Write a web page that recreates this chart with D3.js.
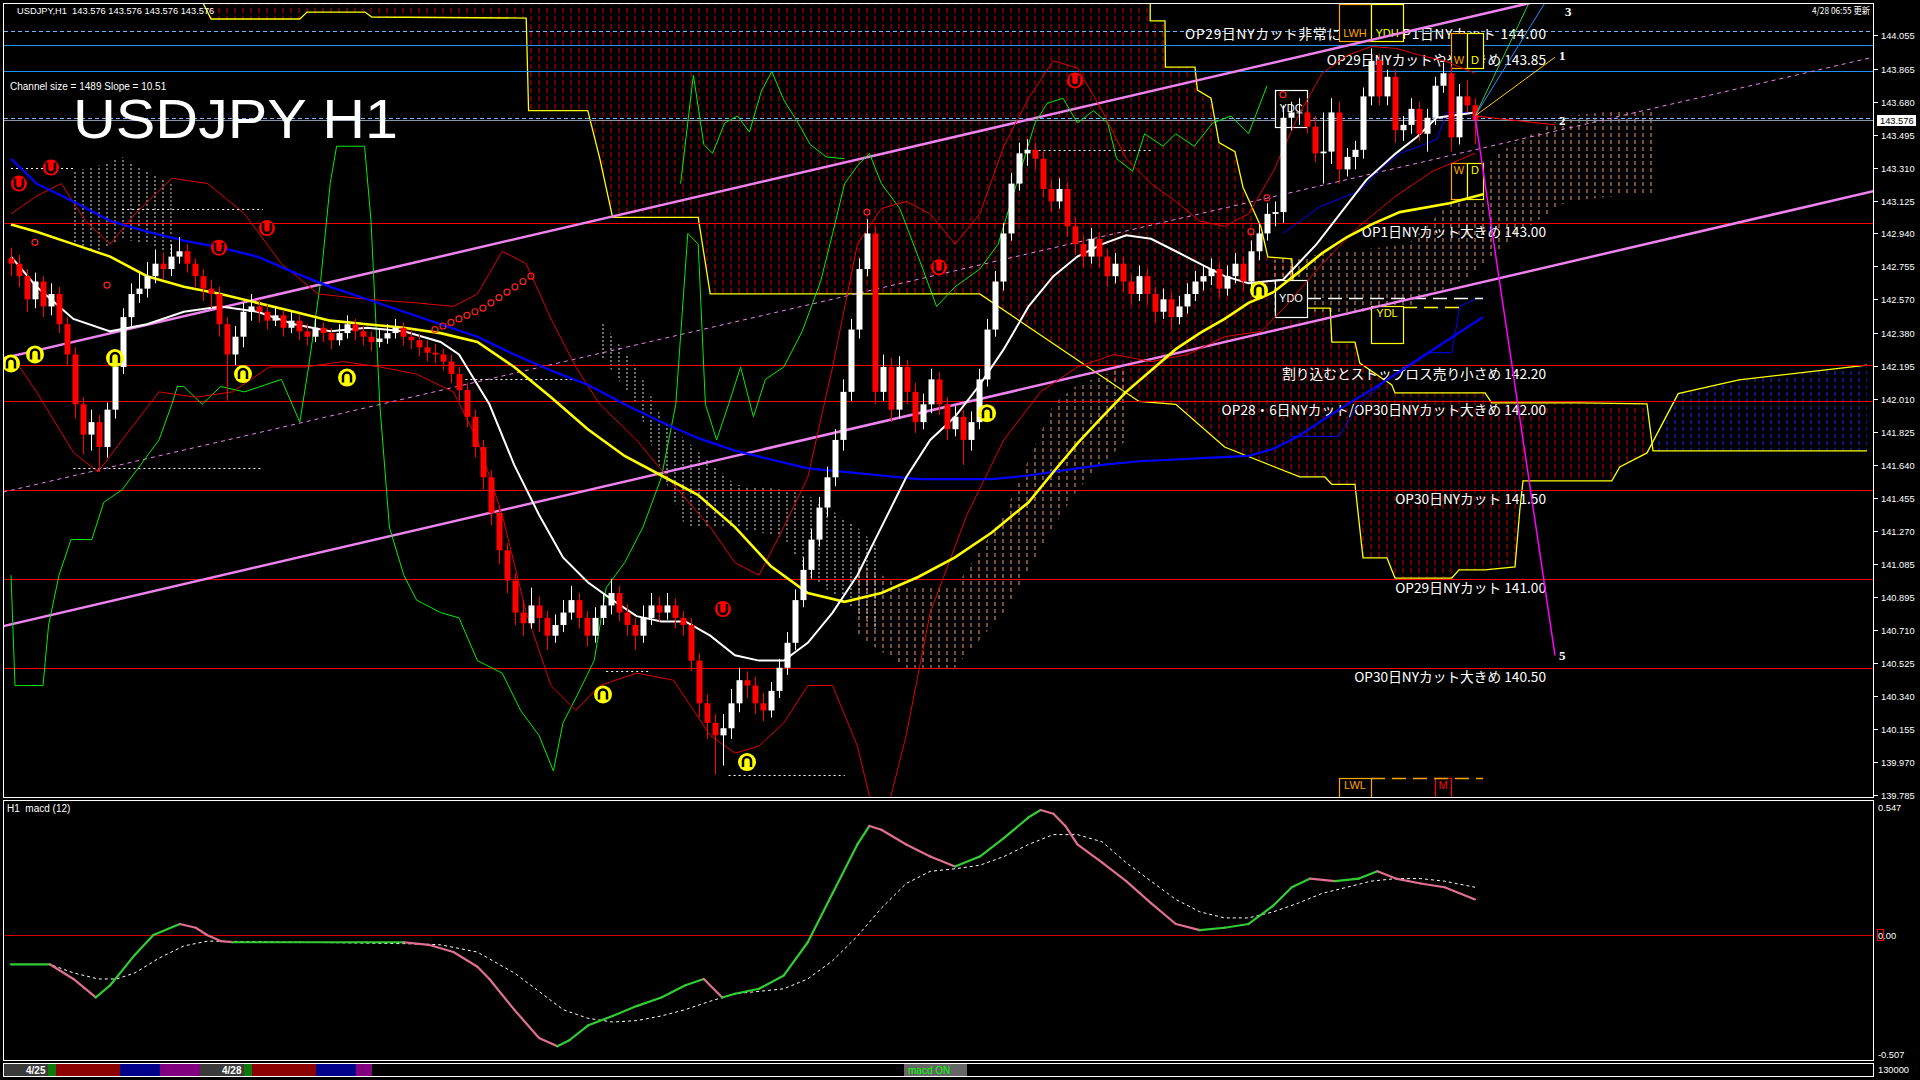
<!DOCTYPE html>
<html><head><meta charset="utf-8">
<script src="https://cdn.jsdelivr.net/npm/d3@7"></script>
<style>
html,body{margin:0;padding:0;background:#000;overflow:hidden}
svg{display:block}
text{font-family:"Liberation Sans",Arial,sans-serif}
</style></head><body>
<svg id="c" width="1920" height="1080"></svg>
<script>
// ---------------- DATA ----------------
const ohlc = [
[142.80,142.86,142.70,142.77],[142.77,142.82,142.64,142.70],[142.70,142.74,142.50,142.57],[142.57,142.72,142.52,142.67],
[142.67,142.70,142.47,142.53],[142.53,142.66,142.48,142.60],[142.60,142.64,142.38,142.43],[142.43,142.47,142.20,142.26],
[142.26,142.30,141.90,141.98],[141.98,142.02,141.70,141.81],[141.81,141.95,141.72,141.88],[141.88,141.92,141.60,141.74],
[141.74,141.99,141.68,141.95],[141.95,142.24,141.90,142.19],[142.19,142.52,142.15,142.47],[142.47,142.66,142.42,142.60],
[142.60,142.72,142.55,142.63],[142.63,142.78,142.58,142.70],[142.70,142.85,142.66,142.77],[142.77,142.83,142.68,142.74],
[142.74,142.88,142.70,142.81],[142.81,142.92,142.77,142.84],[142.84,142.88,142.72,142.77],[142.77,142.80,142.64,142.70],
[142.70,142.74,142.56,142.63],[142.63,142.68,142.52,142.60],[142.60,142.64,142.36,142.43],[142.43,142.47,142.00,142.26],
[142.26,142.42,142.20,142.36],[142.36,142.55,142.30,142.50],[142.50,142.60,142.45,142.53],[142.53,142.57,142.44,142.50],
[142.50,142.54,142.40,142.45],[142.45,142.53,142.42,142.48],[142.48,142.51,142.36,142.41],[142.41,142.50,142.38,142.45],
[142.45,142.48,142.34,142.39],[142.39,142.43,142.31,142.36],[142.36,142.46,142.33,142.41],[142.41,142.44,142.33,142.38],
[142.38,142.41,142.29,142.34],[142.34,142.43,142.31,142.38],[142.38,142.48,142.35,142.43],[142.43,142.46,142.34,142.39],
[142.39,142.42,142.31,142.36],[142.36,142.39,142.28,142.33],[142.33,142.40,142.30,142.35],[142.35,142.43,142.32,142.38],
[142.38,142.46,142.35,142.41],[142.41,142.44,142.31,142.36],[142.36,142.40,142.29,142.34],[142.34,142.37,142.25,142.30],
[142.30,142.34,142.22,142.27],[142.27,142.32,142.21,142.26],[142.26,142.29,142.17,142.22],[142.22,142.26,142.10,142.15],
[142.15,142.19,142.00,142.06],[142.06,142.10,141.85,141.91],[141.91,141.95,141.68,141.74],[141.74,141.78,141.50,141.57],
[141.57,141.61,141.30,141.37],[141.37,141.41,141.08,141.16],[141.16,141.20,140.92,140.99],[140.99,141.03,140.74,140.81],
[140.81,140.88,140.68,140.75],[140.75,140.95,140.72,140.85],[140.85,140.90,140.70,140.78],[140.78,140.82,140.60,140.68],
[140.68,140.80,140.64,140.74],[140.74,140.88,140.70,140.81],[140.81,140.96,140.77,140.88],[140.88,140.92,140.72,140.78],
[140.78,140.82,140.62,140.68],[140.68,140.84,140.64,140.78],[140.78,140.92,140.74,140.85],[140.85,141.00,140.80,140.92],
[140.92,140.96,140.76,140.81],[140.81,140.86,140.68,140.74],[140.74,140.78,140.60,140.68],[140.68,140.85,140.64,140.78],
[140.78,140.92,140.74,140.85],[140.85,140.90,140.76,140.81],[140.81,140.92,140.77,140.85],[140.85,140.89,140.72,140.78],
[140.78,140.82,140.68,140.74],[140.74,140.78,140.48,140.54],[140.54,140.58,140.22,140.30],[140.30,140.35,140.10,140.19],
[140.19,140.24,139.90,140.12],[140.12,140.24,139.95,140.16],[140.16,140.38,140.10,140.30],[140.30,140.50,140.25,140.43],
[140.43,140.48,140.33,140.40],[140.40,140.45,140.24,140.30],[140.30,140.36,140.20,140.26],[140.26,140.42,140.22,140.37],
[140.37,140.55,140.33,140.50],[140.50,140.70,140.46,140.64],[140.64,140.94,140.60,140.88],[140.88,141.12,140.84,141.05],
[141.05,141.28,141.00,141.22],[141.22,141.46,141.18,141.40],[141.40,141.63,141.35,141.57],[141.57,141.84,141.52,141.78],
[141.78,142.12,141.72,142.05],[142.05,142.46,142.00,142.40],[142.40,142.80,142.35,142.74],[142.74,143.02,142.70,142.94],
[142.94,142.98,141.98,142.05],[142.05,142.26,142.00,142.19],[142.19,142.24,141.88,141.95],[141.95,142.25,141.90,142.19],
[142.19,142.23,141.98,142.05],[142.05,142.10,141.82,141.88],[141.88,142.04,141.84,141.98],[141.98,142.18,141.93,142.12],
[142.12,142.16,141.92,141.98],[141.98,142.02,141.78,141.84],[141.84,141.97,141.80,141.91],[141.91,141.95,141.64,141.78],
[141.78,141.94,141.72,141.88],[141.88,142.18,141.84,142.12],[142.12,142.46,142.08,142.40],[142.40,142.73,142.36,142.67],
[142.67,143.00,142.62,142.94],[142.94,143.28,142.90,143.22],[143.22,143.45,143.18,143.39],[143.39,143.47,143.32,143.41],
[143.41,143.45,143.30,143.36],[143.36,143.40,143.14,143.19],[143.19,143.24,143.06,143.12],[143.12,143.25,143.08,143.19],
[143.19,143.23,142.92,142.98],[142.98,143.03,142.82,142.88],[142.88,142.93,142.75,142.81],[142.81,142.97,142.77,142.91],
[142.91,142.95,142.75,142.81],[142.81,142.85,142.64,142.70],[142.70,142.83,142.66,142.77],[142.77,142.81,142.61,142.67],
[142.67,142.71,142.54,142.60],[142.60,142.76,142.56,142.70],[142.70,142.74,142.54,142.60],[142.60,142.64,142.44,142.50],
[142.50,142.63,142.46,142.57],[142.57,142.61,142.40,142.47],[142.47,142.59,142.43,142.53],[142.53,142.66,142.49,142.60],
[142.60,142.73,142.56,142.67],[142.67,142.76,142.62,142.70],[142.70,142.80,142.65,142.74],[142.74,142.78,142.58,142.63],
[142.63,142.76,142.59,142.70],[142.70,142.83,142.66,142.77],[142.77,142.81,142.62,142.67],[142.67,142.90,142.63,142.84],
[142.84,143.00,142.79,142.94],[142.94,143.11,142.90,143.05],[143.05,143.12,142.98,143.06],[143.06,143.66,143.00,143.59],
[143.59,143.68,143.52,143.62],[143.62,143.70,143.55,143.62],[143.62,143.68,143.50,143.54],[143.54,143.60,143.34,143.39],
[143.39,143.62,143.22,143.40],[143.40,143.70,143.33,143.62],[143.62,143.68,143.22,143.30],[143.30,143.42,143.26,143.37],
[143.37,143.46,143.30,143.41],[143.41,143.76,143.36,143.71],[143.71,143.98,143.66,143.91],[143.91,143.95,143.66,143.71],
[143.71,143.86,143.66,143.82],[143.82,143.86,143.45,143.52],[143.52,143.60,143.46,143.55],[143.55,143.70,143.50,143.64],
[143.64,143.68,143.46,143.50],[143.50,143.64,143.40,143.59],[143.59,143.82,143.55,143.77],[143.77,143.90,143.73,143.84],
[143.84,143.88,143.40,143.48],[143.48,143.78,143.44,143.71],[143.71,143.80,143.62,143.66],[143.66,143.70,143.44,143.576]
];
const lastPrice = 143.576;
const priceTicks = [144.055,143.865,143.680,143.495,143.310,143.125,142.940,142.755,142.570,142.380,142.195,142.010,141.825,141.640,141.455,141.270,141.085,140.895,140.710,140.525,140.340,140.155,139.970,139.785];
const macdTicks = [0.547,0.00,-0.507];

// moving averages [bar, price]
const maWhite = [[0,142.81],[3.2,142.64],[7.8,142.46],[12.4,142.39],[17,142.43],[21.6,142.50],[26.2,142.53],[30.8,142.50],[35.4,142.43],[39.9,142.39],[44.5,142.41],[49.1,142.39],[53.7,142.33],[56,142.26],[59.8,141.98],[62.9,141.64],[66,141.36],[69,141.12],[72.1,140.98],[75.2,140.88],[78.2,140.79],[81.3,140.76],[84.3,140.76],[87.4,140.68],[90.5,140.57],[93.5,140.54],[96.6,140.54],[99.6,140.64],[102.7,140.81],[105.8,141.02],[108.8,141.29],[111.9,141.57],[114.9,141.78],[118,141.91],[121.1,142.09],[124.1,142.29],[127.2,142.53],[130.3,142.70],[133.3,142.81],[136.4,142.88],[139.4,142.93],[142.5,142.91],[145.6,142.84],[148.6,142.77],[151.7,142.70],[154.7,142.66],[159,142.68],[163.2,142.88],[167,143.10],[169.4,143.24],[173.1,143.39],[175.7,143.48],[178.2,143.59],[183,143.62]];
const maYellow = [[0,142.99],[3.2,142.95],[7.8,142.88],[12.4,142.81],[17,142.70],[21.6,142.64],[26.2,142.60],[30.8,142.55],[35.4,142.50],[39.9,142.45],[44.5,142.43],[49.1,142.41],[53.7,142.38],[58.3,142.33],[62.9,142.19],[67.5,142.02],[72.1,141.84],[76.7,141.69],[81.3,141.58],[85.9,141.47],[90.5,141.29],[95,141.07],[99.6,140.92],[104.2,140.87],[108.8,140.92],[113.4,141.01],[118,141.12],[122.6,141.26],[127.2,141.43],[130.3,141.60],[133.3,141.76],[136.4,141.91],[139.4,142.05],[142.5,142.17],[145.6,142.29],[148.6,142.38],[151.7,142.46],[154.7,142.55],[157.8,142.61],[160.9,142.72],[163.9,142.83],[167,142.92],[170,142.99],[173.6,143.06],[179.8,143.11],[184,143.16]];
const maBlue = [[0,143.36],[3.2,143.22],[7.8,143.12],[12.4,143.01],[17,142.95],[21.6,142.90],[26.2,142.86],[30.8,142.81],[35.4,142.72],[39.9,142.64],[44.5,142.57],[49.1,142.50],[53.7,142.43],[58.3,142.36],[62.9,142.26],[67.5,142.17],[72.1,142.09],[76.7,141.98],[81.3,141.88],[85.9,141.79],[90.5,141.72],[95,141.67],[99.6,141.62],[104.2,141.60],[108.8,141.58],[113.4,141.56],[118,141.56],[122.6,141.56],[127.2,141.58],[131.8,141.61],[136.4,141.64],[141,141.66],[145.6,141.67],[150.2,141.68],[154.7,141.69],[157.8,141.73],[160.9,141.80],[163.9,141.89],[167,141.98],[170,142.06],[173.1,142.15],[176.2,142.24],[179.2,142.33],[184,142.47]];
const tenkanBlue = [[159,142.94],[163.6,143.09],[168.6,143.18],[171.1,143.30],[173.6,143.39],[176.1,143.43],[178.25,143.47],[179.5,143.62],[183,143.62]];
const kijunBlue = [[160,141.80],[166,141.80],[168,141.95],[172,142.12],[177,142.27],[180.1,142.27],[181.1,142.53],[183,142.57]];
const bandUpper = [[0,143.05],[3.2,143.15],[6.3,143.22],[9.3,143.01],[12.4,142.88],[15.5,143.05],[20.1,143.25],[24.6,143.22],[29.2,143.05],[33.8,142.77],[38.4,142.60],[44.5,142.57],[50.7,142.55],[55.3,142.53],[58.3,142.60],[61.4,142.84],[64.4,142.77],[67.5,142.46],[70.6,142.19],[73.6,141.98],[78.2,141.78],[82.8,141.53],[87.4,141.29],[90.5,141.09],[93.5,141.02],[96.6,141.29],[99.6,141.57],[102.7,142.19],[105.8,142.88],[108.8,143.08],[111.9,143.12],[114.9,143.05],[118,142.88],[121.1,143.05],[124.1,143.43],[127.2,143.70],[130.3,143.91],[133.3,143.87],[136.4,143.63],[139.4,143.36],[142.5,143.22],[145.6,143.12],[148.6,143.01],[151.7,142.98],[154.7,143.05],[157.8,143.29],[160.9,143.60],[163.9,143.84],[167,143.94],[170,143.99],[173.1,143.98],[176.2,143.94],[179.2,143.91],[183,143.84]];
const bandLower = [[0,142.26],[3.2,142.05],[7.8,141.71],[10.9,141.60],[13.9,141.78],[18.5,142.05],[23.1,142.02],[27.7,142.05],[32.3,142.19],[36.9,142.19],[41.5,142.22],[46.1,142.19],[50.7,142.15],[55.3,142.05],[58.3,141.78],[61.4,141.36],[64.4,140.81],[67.5,140.40],[70.6,140.26],[73.6,140.40],[78.2,140.47],[82.8,140.43],[87.4,140.12],[90.5,140.02],[93.5,140.06],[96.6,140.19],[99.6,140.40],[102.7,140.40],[105.8,140.06],[107.3,139.78],[109.6,139.71],[111.9,140.12],[114.9,140.81],[119.5,141.36],[124.1,141.78],[128.7,142.05],[133.3,142.19],[137.9,142.26],[142.5,142.22],[147.1,142.26],[151.7,142.36],[156.3,142.39],[159.3,142.53],[163.9,142.77],[168.5,142.98],[173.1,143.15],[177.7,143.29],[183,143.39]];
const laggingSpan = [[0,141.02],[0.5,140.40],[4,140.40],[4.7,140.74],[6,141.02],[7.5,141.22],[10.1,141.22],[11.6,141.43],[13.9,141.50],[16.2,141.64],[18.5,141.78],[20.1,141.98],[20.8,142.08],[21.6,142.08],[23.9,141.98],[26.2,142.08],[29.2,142.05],[33.8,142.12],[36.1,141.88],[37.2,142.19],[38.7,142.67],[39.9,143.22],[40.7,143.43],[44.2,143.43],[45,143.01],[46.1,141.98],[47.3,141.29],[49.1,141.02],[50.7,140.88],[53.7,140.81],[56,140.78],[58.3,140.54],[61.4,140.47],[63.7,140.26],[66,140.12],[67.8,139.92],[69,140.19],[70.6,140.33],[72.9,140.54],[74.4,140.95],[76.7,141.09],[79,141.29],[81.3,141.57],[83.1,141.98],[84.6,142.94],[85.9,142.88],[86.8,141.98],[88.2,141.78],[89.7,141.98],[91.2,142.19],[92.8,141.91],[94.3,142.12],[96.6,142.19],[98.9,142.39],[101.2,142.67],[102.7,142.94],[104.2,143.22],[105.8,143.32],[107.3,143.39],[108.8,143.22],[111.1,143.08],[113.4,142.81],[115.7,142.53],[118,142.64],[121.1,142.74],[123.4,142.88],[125.7,143.22],[128,143.56],[129.5,143.67],[131.5,143.70],[133.3,143.56],[135.3,143.63],[137.1,143.56],[138.2,143.36],[140.2,143.29],[141.7,143.50],[144,143.43],[145.6,143.50],[147.9,143.43],[150.2,143.56],[152.5,143.60],[154.7,143.50],[157,143.77]];
const laggingUpper = [[83.7,143.22],[85.3,143.83],[86.6,143.44],[87.7,143.39],[89.2,143.56],[90.8,143.60],[92.3,143.51],[93.8,143.74],[95.1,143.85],[96.6,143.69],[98.4,143.56],[99.9,143.44],[101.9,143.37],[104.2,143.36]];

// H1 clouds [bar, spanA, spanB]
const cloudWhiteLeft = [[7.8,143.29,142.88],[10.9,143.32,142.84],[13.9,143.37,142.91],[17,143.29,142.88],[20.1,143.22,142.81]];
const cloudWhiteMid = [[73.6,142.46,142.26],[78.2,142.19,141.98],[81.3,141.91,141.60],[84.3,141.78,141.29],[90.5,141.53,141.29],[96.6,141.50,141.23],[99.6,141.47,141.02],[105.8,141.29,140.81],[108.8,141.16,140.68]];
const cloudOrangeMid = [[105.8,141.09,140.68],[111.9,140.95,140.50],[118,140.95,140.50],[124.1,141.36,140.81],[130.3,141.98,141.29],[133.3,142.09,141.50],[139.4,142.19,141.78]];
const cloudOrangeRight = [[157.8,142.79,142.49],[167,142.84,142.49],[174.6,142.88,142.53],[179.2,143.08,142.63],[182.3,143.29,142.70],[188.4,143.46,142.94],[194.5,143.60,143.12],[200.7,143.63,143.15],[205.3,143.63,143.15]];
// higher-timeframe cloud spans [bar, price]
const mtfSpanA = [[25,144.40],[142.4,144.40],[142.4,144.134],[144.25,144.134],[144.3,143.875],[148,143.875],[148.3,143.746],[150,143.70],[151,143.45],[153,143.40],[154,143.20],[156.25,142.976],[157.1,142.808],[160.1,142.797],[160.25,142.679],[161.1,142.521],[164.9,142.521],[165.1,142.33],[168,142.33],[168.6,142.212],[172.6,142.089],[173,142.044],[184.25,142.044],[185.1,141.988],[196.1,141.988],[204.5,141.982],[205.25,141.718],[232,141.718]];
const mtfSpanB = [[21,144.235],[24,144.235],[25,144.145],[36.1,144.145],[37,144.184],[44.25,144.184],[45.1,144.156],[64.4,144.15],[64.7,143.63],[72.1,143.63],[73.6,143.36],[75.2,143.03],[85.9,143.03],[87.4,142.60],[121.1,142.60],[141,141.996],[145.6,141.98],[151.7,141.74],[161.1,141.572],[164.25,141.572],[165.1,141.53],[168,141.53],[169,141.117],[172,141.117],[173,141.004],[180.1,141.004],[181,141.05],[184.25,141.05],[188,141.066],[188.6,141.385],[189,141.55],[200.1,141.55],[201.1,141.628],[204.5,141.707],[208.4,142.04],[216,142.117],[232,142.20]];
const mtfTwist = 204.8;

// levels and labels
const levelPrices = [144.00,143.85,143.00,142.20,142.00,141.50,141.00,140.50];
const levelLabels = ["OP29日NYカット非常に大きめ/OP1日NYカット 144.00","OP29日NYカットやや大きめ 143.85","OP1日NYカット大きめ 143.00","割り込むとストップロス売り小さめ 142.20","OP28・6日NYカット/OP30日NYカット大きめ 142.00","OP30日NYカット 141.50","OP29日NYカット 141.00","OP30日NYカット大きめ 140.50"];
const dashedLevels = [144.077,143.59];

// channel: [bar, price] anchors
const channelUpper = [[0,142.249],[183,144.163]];
const channelMid = [[0,141.497],[183,143.410]];
const channelLower = [[0,140.744],[183,142.657]];

// projections from last bar
const projOrigin = [183,143.60];
const projTargets = [["5",193,140.57],["3",193.75,144.19],["1",193,143.94],["2",193,143.58]];
const fanGreen = [191.5,144.40], fanBlue = [194,144.40], fanGold = [193,143.93], fanRed = [193,143.55];

// boxes: label, bar0, bar1, top price, bottom price, text price
const boxes = [
 ["LWH",166,170,144.229,144.021,144.066],["YDH",170,174,144.229,144.021,144.066],
 ["W",180,182,144.066,143.870,143.915],["D",182,184,144.066,143.870,143.915],
 ["YDC",158,162,143.746,143.538,143.645],["YDO",158,162,142.679,142.471,142.577],
 ["YDL",170,174,142.533,142.325,142.493],["W",180,182,143.336,143.134,143.297],
 ["D",182,184,143.336,143.134,143.297],["LWL",166,170,139.881,139.70,139.842],["M",178,180,139.881,139.70,139.842]
];
const boxLines = [["YDO",162,184,142.577],["YDL",174,181,142.525],["LWL",170,184,139.881]];

// signal markers
const buySignals = [[0,142.21],[3,142.26],[13,142.24],[29,142.15],[42,142.13],[74,140.35],[92,139.97],[122,141.93],[156,142.62]];
const sellSignals = [[1,143.22],[5,143.31],[26,142.86],[32,142.97],[89,140.83],[116,142.75],[133,143.80]];
const sarDots = [[53,142.40],[54,142.42],[55,142.44],[56,142.46],[57,142.48],[58,142.50],[59,142.52],[60,142.55],[61,142.58],[62,142.61],[63,142.64],[64,142.67],[65,142.70]];
const barRings = [[3,142.89],[12,142.65],[107,143.06],[155,142.95],[157,143.14],[159,143.72]];
const dotLevels = [[0,7.8,143.31],[13.9,31.5,143.08],[7.8,31.5,141.62],[56.8,70.6,142.12],[74.4,79.7,140.48],[89.7,104.2,139.90],[127.2,142.5,143.41]];

// MACD [bar, value]
const macdMain = [[0,-0.126],[4.9,-0.126],[7.8,-0.188],[10.6,-0.267],[12.4,-0.215],[15.5,-0.084],[17.8,0],[21.1,0.047],[23.1,0.031],[24.5,0],[26.2,-0.026],[27.7,-0.031],[36.1,-0.031],[44.5,-0.031],[49.1,-0.031],[52.2,-0.042],[55.3,-0.073],[58.3,-0.136],[59.8,-0.188],[62.9,-0.319],[66,-0.44],[68.3,-0.476],[69.8,-0.45],[72.1,-0.387],[75.2,-0.346],[78.2,-0.304],[81.3,-0.267],[84.3,-0.215],[86.6,-0.188],[88.9,-0.267],[90.5,-0.251],[93.5,-0.23],[96.6,-0.173],[99.6,-0.031],[102.7,0.178],[105.8,0.387],[107.3,0.466],[108.8,0.45],[111.9,0.387],[114.9,0.335],[118,0.293],[121.1,0.335],[124.1,0.414],[127.2,0.503],[128.7,0.534],[130.3,0.518],[131.8,0.466],[133.3,0.387],[136.4,0.309],[139.4,0.23],[142.5,0.136],[145.6,0.047],[148.6,0.021],[151.7,0.031],[154.7,0.047],[157.8,0.126],[160.1,0.204],[162.4,0.241],[165.5,0.23],[168.5,0.241],[170.8,0.272],[173.1,0.241],[176.2,0.22],[179.2,0.204],[183,0.152]];
const macdSignal = [[0,-0.126],[4.9,-0.126],[7.8,-0.162],[10.9,-0.188],[13.2,-0.188],[15.5,-0.162],[18.5,-0.099],[21.6,-0.047],[24.6,-0.026],[36.1,-0.031],[49.1,-0.037],[53.7,-0.042],[58.3,-0.073],[62.9,-0.162],[66,-0.241],[69,-0.319],[72.1,-0.356],[75.2,-0.372],[78.2,-0.366],[81.3,-0.346],[84.3,-0.319],[87.4,-0.283],[90.5,-0.251],[93.5,-0.241],[96.6,-0.23],[99.6,-0.188],[102.7,-0.11],[105.8,-0.005],[108.8,0.115],[111.9,0.22],[114.9,0.272],[118,0.283],[121.1,0.298],[124.1,0.335],[127.2,0.387],[130.3,0.429],[133.3,0.429],[136.4,0.398],[139.4,0.309],[142.5,0.23],[145.6,0.152],[148.6,0.099],[151.7,0.073],[154.7,0.073],[157.8,0.099],[160.9,0.136],[163.9,0.178],[167,0.204],[170,0.23],[173.1,0.241],[176.2,0.241],[179.2,0.23],[183,0.204]];

// session strip
const sessionDays = ["4/25","4/28"];
const sessionSegs = ["gray","green","red","blue","purple"];
const sessionUnits = [5.5,1,8,5,5];

// ---------------- DRAW ----------------
const svg = d3.select('#c');
const defs = svg.append('defs');
svg.append('rect').attr('width',1920).attr('height',1080).attr('fill','#000');

const L=3.5, R=1873.5, T=3.5, B=797.5;
const x = d3.scaleLinear().domain([0,183]).range([11,1475]);
const y = d3.scaleLinear().domain([139.785,144.055]).range([795,35]);
const ym = d3.scaleLinear().domain([-0.507,0.547]).range([1053.6,807]);
const jp = '"Noto Sans CJK JP","Noto Sans CJK SC",sans-serif';

defs.append('clipPath').attr('id','clipMain').append('rect').attr('x',4).attr('y',4).attr('width',1869).attr('height',793);
defs.append('clipPath').attr('id','clipMacd').append('rect').attr('x',4).attr('y',801).attr('width',1869).attr('height',259);

function pat(id,color,on,off){
  const p=defs.append('pattern').attr('id',id).attr('patternUnits','userSpaceOnUse')
    .attr('width',8).attr('height',on+off).attr('x',x(0)-0.5).attr('y',0);
  p.append('rect').attr('x',0).attr('y',0).attr('width',1).attr('height',on).attr('fill',color);
}
pat('pRed','#d00000',5,3);
pat('pWhite','#dddddd',2,2);
pat('pOrange','#f4a070',4,3);
pat('pBlue','#1030ff',4,3);

const main = svg.append('g').attr('clip-path','url(#clipMain)');
let cid=0;
function clipFill(d,patId){
  const id='cc'+(cid++);
  defs.append('clipPath').attr('id',id).append('path').attr('d',d);
  main.append('rect').attr('x',4).attr('y',4).attr('width',1869).attr('height',793)
    .attr('fill','url(#'+patId+')').attr('clip-path','url(#'+id+')');
}
function cloud(data,patId){
  const area=d3.area().x(d=>x(d[0])).y0(d=>y(d[1])).y1(d=>y(d[2]));
  clipFill(area(data),patId);
}
const line = d3.line().x(d=>x(d[0])).y(d=>y(d[1]));
// higher timeframe cloud: polygon from spanA forward and spanB backward
const redA = mtfSpanA.filter(d=>d[0]<=mtfTwist), redB = mtfSpanB.filter(d=>d[0]<=mtfTwist);
clipFill(line(redA.concat(redB.slice().reverse()))+'Z','pRed');
const bluA = mtfSpanA.filter(d=>d[0]>=mtfTwist), bluB = mtfSpanB.filter(d=>d[0]>=mtfTwist);
clipFill(line(bluA.concat(bluB.slice().reverse()))+'Z','pBlue');

cloud(cloudWhiteLeft,'pWhite');
cloud(cloudWhiteMid,'pWhite');
cloud(cloudOrangeMid,'pOrange');
cloud(cloudOrangeRight,'pOrange');

main.append('path').attr('d',line(mtfSpanA)).attr('fill','none').attr('stroke','#ffff00').attr('stroke-width',1.3);
main.append('path').attr('d',line(mtfSpanB)).attr('fill','none').attr('stroke','#ffff00').attr('stroke-width',1.3);

// horizontal levels
dashedLevels.forEach(p=>{
  main.append('line').attr('x1',4).attr('x2',1873).attr('y1',Math.round(y(p))+0.5).attr('y2',Math.round(y(p))+0.5)
   .attr('stroke','#70b8ff').attr('stroke-dasharray','4,3');
});
main.append('line').attr('x1',4).attr('x2',1873).attr('y1',Math.round(y(lastPrice))+0.5).attr('y2',Math.round(y(lastPrice))+0.5).attr('stroke','#8898a8');
levelPrices.forEach(p=>{
  const yy=Math.round(y(p))+0.5;
  main.append('line').attr('x1',4).attr('x2',1873).attr('y1',yy).attr('y2',yy)
    .attr('stroke',p>=143.5?'#1e90ff':'#ff0000').attr('stroke-width',1.2);
});
levelPrices.forEach((p,k)=>{
  const above = p>=143.5;
  const t = main.append('text').attr('x',1546).attr('y',y(p)+(above?-6:14)).attr('text-anchor','end')
   .attr('fill','#fff').attr('font-size',13.7).style('font-family',jp).text(levelLabels[k]);
  if(k===0) t.attr('textLength',361).attr('lengthAdjust','spacing');
});

// boxes
const boxCol = {LWH:'#ffa500',YDH:'#ffff00',W:'#ffa500',D:'#ffff00',YDC:'#ffffff',YDO:'#ffffff',YDL:'#ffff00',LWL:'#ffa500',M:'#ff0000'};
boxes.forEach(b=>{
  const col = boxCol[b[0]];
  main.append('rect').attr('x',Math.round(x(b[1]))+0.5).attr('y',Math.round(y(b[3]))+0.5)
    .attr('width',Math.round(x(b[2])-x(b[1]))).attr('height',Math.round(y(b[4])-y(b[3])))
    .attr('fill','#000').attr('stroke',col).attr('stroke-width',1.2);
  main.append('text').attr('x',(x(b[1])+x(b[2]))/2).attr('y',y(b[5])+4).attr('text-anchor','middle')
    .attr('fill',col).attr('font-size',11).text(b[0]);
});
boxLines.forEach(b=>{
  main.append('line').attr('x1',x(b[1])).attr('x2',x(b[2])).attr('y1',Math.round(y(b[3]))+0.5).attr('y2',Math.round(y(b[3]))+0.5)
    .attr('stroke',boxCol[b[0]]).attr('stroke-width',1.3).attr('stroke-dasharray','14,7');
});

// channel
function extend(a){const s=(a[1][1]-a[0][1])/(a[1][0]-a[0][0]);return [[-2,a[0][1]-2*s],[236,a[0][1]+236*s]];}
main.append('path').attr('d',line(extend(channelUpper))).attr('stroke','#ee82ee').attr('stroke-width',2.5).attr('fill','none');
main.append('path').attr('d',line(extend(channelLower))).attr('stroke','#ee82ee').attr('stroke-width',2.5).attr('fill','none');
main.append('path').attr('d',line(extend(channelMid))).attr('stroke','#ee82ee').attr('stroke-width',1).attr('stroke-dasharray','4,4').attr('fill','none');

// lagging + bands
main.append('path').attr('d',line(laggingSpan)).attr('stroke','#00ee00').attr('stroke-width',1).attr('fill','none');
main.append('path').attr('d',line(laggingUpper)).attr('stroke','#00ee00').attr('stroke-width',1).attr('fill','none');
main.append('path').attr('d',line(bandUpper)).attr('stroke','#e00000').attr('stroke-width',1).attr('fill','none');
main.append('path').attr('d',line(bandLower)).attr('stroke','#e00000').attr('stroke-width',1).attr('fill','none');

// dotted extreme levels
dotLevels.forEach(d=>{
  main.append('line').attr('x1',x(d[0])).attr('x2',x(d[1])).attr('y1',Math.round(y(d[2]))+0.5).attr('y2',Math.round(y(d[2]))+0.5)
   .attr('stroke','#fff').attr('stroke-dasharray','2,3');
});

// MAs
main.append('path').attr('d',line(kijunBlue)).attr('stroke','#0000ff').attr('stroke-width',1).attr('fill','none');
main.append('path').attr('d',line(tenkanBlue)).attr('stroke','#0000ff').attr('stroke-width',1).attr('fill','none');
main.append('path').attr('d',line(maBlue)).attr('stroke','#0000ff').attr('stroke-width',2.2).attr('fill','none');
main.append('path').attr('d',line(maYellow)).attr('stroke','#ffff00').attr('stroke-width',2.6).attr('fill','none');
main.append('path').attr('d',line(maWhite)).attr('stroke','#ffffff').attr('stroke-width',2).attr('fill','none');

// candles
const cg = main.append('g');
ohlc.forEach((d,i)=>{
  const [o,h,l,c]=d, up=c>=o, col=up?'#ffffff':'#ff0000', cx=Math.round(x(i))+0.5;
  cg.append('line').attr('x1',cx).attr('x2',cx).attr('y1',y(h)).attr('y2',y(l)).attr('stroke',col);
  const top=y(Math.max(o,c)), bot=y(Math.min(o,c));
  cg.append('rect').attr('x',cx-3).attr('width',6).attr('y',top).attr('height',Math.max(1,bot-top)).attr('fill',col);
});

// projections
[[fanGreen,'#32cd32'],[fanBlue,'#1e90ff'],[fanGold,'#ffc800'],[fanRed,'#ff0000']].forEach(f=>{
  main.append('path').attr('d',line([projOrigin,f[0]])).attr('stroke',f[1]).attr('stroke-width',1).attr('fill','none');
});
main.append('path').attr('d',line([projOrigin,[projTargets[0][1],projTargets[0][2]]])).attr('stroke','#ff00ff').attr('stroke-width',1.5).attr('fill','none');
projTargets.forEach(t=>{
  main.append('text').attr('x',x(t[1])+4).attr('y',y(t[2])+5).attr('fill','#fff').attr('font-size',13).attr('font-weight','bold')
    .style('font-family','"Liberation Serif",serif').text(t[0]);
});

// markers
sarDots.concat(barRings).forEach(s=>{
  main.append('circle').attr('cx',x(s[0])).attr('cy',y(s[1])).attr('r',3).attr('fill','none').attr('stroke','#ff2020').attr('stroke-width',1.2);
});
buySignals.forEach(s=>{
  const g=main.append('g').attr('transform',`translate(${x(s[0])},${y(s[1])})`);
  g.append('circle').attr('r',9).attr('fill','#ffff00');
  g.append('path').attr('d','M-4,5 V-1 A4,4 0 0 1 4,-1 V5').attr('stroke','#000').attr('stroke-width',2.5).attr('fill','none');
});
sellSignals.forEach(s=>{
  const g=main.append('g').attr('transform',`translate(${x(s[0])},${y(s[1])})`);
  g.append('circle').attr('r',8).attr('fill','#ff0000');
  g.append('path').attr('d','M-4,-5 V1 A4,4 0 0 0 4,1 V-5').attr('stroke','#000').attr('stroke-width',2.5).attr('fill','none');
});

// ---- frame & axes ----
svg.append('rect').attr('x',L).attr('y',T).attr('width',R-L).attr('height',B-T).attr('fill','none').attr('stroke','#fff');
svg.append('rect').attr('x',L).attr('y',800.5).attr('width',R-L).attr('height',260).attr('fill','none').attr('stroke','#fff');
svg.append('rect').attr('x',L).attr('y',1063.5).attr('width',R-L).attr('height',13).attr('fill','none').attr('stroke','#fff');

const axT = svg.append('g').attr('font-size',9.3).attr('fill','#fff');
priceTicks.forEach(p=>{
  const yy=Math.round(y(p))+0.5;
  svg.append('line').attr('x1',1874).attr('x2',1878).attr('y1',yy).attr('y2',yy).attr('stroke','#fff');
  axT.append('text').attr('x',1881).attr('y',yy+3.5).text(p.toFixed(3));
});
svg.append('rect').attr('x',1877).attr('y',Math.round(y(lastPrice))-5).attr('width',39).attr('height',11).attr('fill','#fff');
svg.append('text').attr('x',1880).attr('y',Math.round(y(lastPrice))+4).attr('font-size',9.3).attr('fill','#000').text(lastPrice.toFixed(3));

// title texts
svg.append('text').attr('x',17).attr('y',14).attr('font-size',9.3).attr('fill','#fff').attr('xml:space','preserve')
  .text('USDJPY,H1  143.576 143.576 143.576 143.576');
svg.append('text').attr('x',10).attr('y',90).attr('font-size',10).attr('fill','#fff').text('Channel size = 1489 Slope = 10.51');
svg.append('text').attr('x',73).attr('y',138).attr('font-size',56).attr('fill','#fff').attr('textLength',325).attr('lengthAdjust','spacingAndGlyphs').text('USDJPY H1');
svg.append('text').attr('x',1870).attr('y',14).attr('text-anchor','end').attr('font-size',9.5).attr('fill','#fff')
  .style('font-family',jp).attr('textLength',58).attr('lengthAdjust','spacingAndGlyphs').text('4/28 06:55 更新');

// ---- MACD ----
const mg = svg.append('g').attr('clip-path','url(#clipMacd)');
mg.append('line').attr('x1',4).attr('x2',1873).attr('y1',Math.round(ym(0))+0.5).attr('y2',Math.round(ym(0))+0.5).attr('stroke','#d00000');
const mline = d3.line().x(d=>x(d[0])).y(d=>ym(d[1]));
mg.append('path').attr('d',mline(macdSignal)).attr('stroke','#fff').attr('stroke-dasharray','3,3').attr('fill','none');
for(let k=1;k<macdMain.length;k++){
  const a=macdMain[k-1], b=macdMain[k];
  mg.append('path').attr('d',mline([a,b])).attr('stroke',b[1]>=a[1]?'#32cd32':'#e07090').attr('stroke-width',2.2).attr('fill','none').attr('stroke-linecap','round');
}
svg.append('text').attr('x',7).attr('y',812).attr('font-size',10).attr('fill','#fff').attr('xml:space','preserve').text('H1  macd (12)');
macdTicks.forEach(v=>{
  svg.append('text').attr('x',1878).attr('y',ym(v)+4).attr('font-size',9.3).attr('fill','#fff').text(v===0?'0.00':v.toFixed(3));
});
svg.append('rect').attr('x',1877.5).attr('y',ym(0)-5.5).attr('width',6).attr('height',11).attr('fill','none').attr('stroke','#ff0000');
svg.append('text').attr('x',1878).attr('y',1073).attr('font-size',9.3).attr('fill','#fff').text('130000');

// ---- session strip ----
const segColor = {gray:'#3a3a3a',green:'#0b7a0b',red:'#8b0000',blue:'#00008b',purple:'#800080'};
let sxp = 4; const unit = 8;
sessionDays.forEach((day,di)=>{
  const startX = sxp;
  sessionSegs.forEach((s,k)=>{
    const w = (di===1 && k===4) ? unit*2 : sessionUnits[k]*unit;
    svg.append('rect').attr('x',sxp).attr('y',1064).attr('width',w).attr('height',12).attr('fill',segColor[s]);
    sxp += w;
  });
  svg.append('text').attr('x',startX+22).attr('y',1074).attr('font-size',10).attr('font-weight','bold').attr('fill','#fff').text(day);
});
svg.append('rect').attr('x',904).attr('y',1064).attr('width',63).attr('height',12).attr('fill','#666');
svg.append('text').attr('x',908).attr('y',1074).attr('font-size',10).attr('fill','#00ff00').text('macd ON');
</script>
</body></html>
